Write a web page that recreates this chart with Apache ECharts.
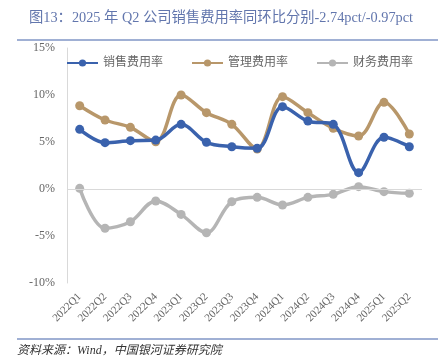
<!DOCTYPE html>
<html><head><meta charset="utf-8">
<script src="https://cdn.jsdelivr.net/npm/echarts@6/dist/echarts.min.js"></script>
<style>html,body{margin:0;padding:0;background:#fff}#c{width:441px;height:362px}</style>
</head><body><div id="c"></div>
<script>
const categories = ['2022Q1','2022Q2','2022Q3','2022Q4','2023Q1','2023Q2','2023Q3','2023Q4','2024Q1','2024Q2','2024Q3','2024Q4','2025Q1','2025Q2'];
const salesRate = [6.35, 4.93, 5.14, 5.2, 6.88, 4.97, 4.5, 4.33, 8.76, 7.23, 6.88, 1.74, 5.5, 4.5];
const adminRate = [8.86, 7.34, 6.56, 5.03, 10.0, 8.12, 6.88, 4.26, 9.82, 8.12, 6.45, 5.64, 9.22, 5.85];
const financeRate = [0.07, -4.18, -3.48, -1.28, -2.7, -4.65, -1.35, -0.89, -1.7, -0.89, -0.57, 0.25, -0.28, -0.46];
const seriesNames = ['销售费用率','管理费用率','财务费用率'];
const colors = ['#3a62ad','#b8976a','#b5b5b5'];
const titleText = '图13：2025 年 Q2 公司销售费用率同环比分别-2.74pct/-0.97pct';
const sourceText = '资料来源：Wind，中国银河证券研究院';

const chart = echarts.init(document.getElementById('c'));
const serif = '"Liberation Serif","DejaVu Serif","Noto Sans CJK SC",serif';
function mk(name, data, color, z){
  return {name, type:'line', data, smooth:0.35, symbol:'circle', symbolSize:9, z,
    lineStyle:{width:3.5, color}, itemStyle:{color}};
}
chart.setOption({
  animation:false,
  color: colors,
  grid:{left:67, right:19, top:48, bottom:79},
  legend:{top:52, left:61, itemWidth:31, itemHeight:9, itemGap:28,
    textStyle:{fontSize:12, color:'#666', fontFamily:serif},
    data: seriesNames},
  xAxis:{type:'category', data:categories, boundaryGap:true,
    axisLine:{show:false}, axisTick:{show:false},
    axisLabel:{rotate:45, fontSize:11, color:'#666', fontFamily:serif, margin:12, interval:0}},
  yAxis:{type:'value', min:-10, max:15, interval:5,
    axisLine:{show:true, lineStyle:{color:'#d9d9d9', width:1}},
    axisTick:{show:false},
    splitLine:{show:false},
    axisLabel:{formatter:'{value}%', fontSize:12, color:'#666', fontFamily:serif, margin:12}},
  series:[
    Object.assign(mk(seriesNames[2], financeRate, colors[2], 2), {
      markLine:{silent:true, symbol:'none', label:{show:false}, lineStyle:{color:'#d9d9d9', type:'solid', width:1},
        data:[{yAxis:0}]}}),
    mk(seriesNames[1], adminRate, colors[1], 3),
    mk(seriesNames[0], salesRate, colors[0], 4)
  ],
  graphic:[
    {type:'text', left:29, top:11, style:{text:titleText, fontSize:14.3, fill:'#6276ad', fontFamily:serif}},
    {type:'line', shape:{x1:17, y1:40, x2:438, y2:40}, style:{stroke:'#8096c6', lineWidth:1.5}},
    {type:'line', shape:{x1:17, y1:339, x2:438, y2:339}, style:{stroke:'#8096c6', lineWidth:1.5}},
    {type:'text', left:17, top:345, style:{text:sourceText, fontSize:12, fill:'#333', fontStyle:'italic', fontFamily:serif}}
  ]
});
</script></body></html>
